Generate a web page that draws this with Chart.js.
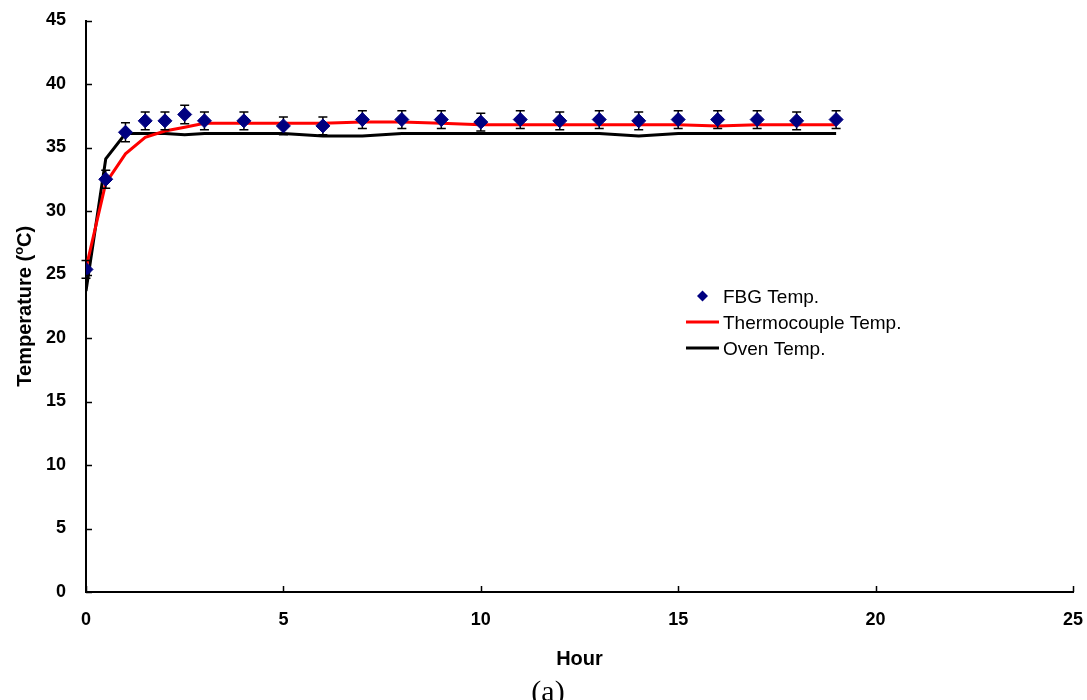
<!DOCTYPE html>
<html>
<head>
<meta charset="utf-8">
<script src="https://cdn.jsdelivr.net/npm/chart.js@4.4.1/dist/chart.umd.min.js"></script>
<style>
  html, body { margin: 0; padding: 0; background: #fff; }
  #chart { display: block; }
</style>
</head>
<body>
<canvas id="chart" width="1087" height="700"></canvas>
<script>
// --- data
const hours = [0, 0.5, 1, 1.5, 2, 2.5, 3, 4, 5, 6, 7, 8, 9, 10, 11, 12, 13, 14, 15, 16, 17, 18, 19];
const fbgTemp = [25.4, 32.5, 36.2, 37.1, 37.1, 37.6, 37.1, 37.1, 36.7, 36.7, 37.2, 37.2, 37.2, 37.0, 37.2, 37.1, 37.2, 37.1, 37.2, 37.2, 37.2, 37.1, 37.2];
const fbgError = [0.7, 0.7, 0.75, 0.7, 0.7, 0.73, 0.7, 0.7, 0.7, 0.7, 0.7, 0.7, 0.7, 0.7, 0.7, 0.7, 0.7, 0.7, 0.7, 0.7, 0.7, 0.7, 0.7];
const thermoTemp = [25.5, 32.2, 34.5, 35.8, 36.3, 36.6, 36.9, 36.9, 36.9, 36.9, 37.0, 37.0, 36.9, 36.8, 36.8, 36.8, 36.8, 36.8, 36.8, 36.7, 36.8, 36.8, 36.8];
const ovenTemp = [23.7, 34.1, 36.1, 36.1, 36.1, 36.0, 36.1, 36.1, 36.1, 35.9, 35.9, 36.1, 36.1, 36.1, 36.1, 36.1, 36.1, 35.9, 36.1, 36.1, 36.1, 36.1, 36.1];
const xTicks = [0, 5, 10, 15, 20, 25];
const yTicks = [0, 5, 10, 15, 20, 25, 30, 35, 40, 45];
const seriesNames = ['FBG Temp.', 'Thermocouple Temp.', 'Oven Temp.'];

const SANS = "'Liberation Sans', Arial, sans-serif";
const pts = ys => hours.map((h, i) => ({ x: h, y: ys[i] }));

// no automatic label padding, layout.padding decides the plot box
function noPad(s) { s.paddingTop = 0; s.paddingBottom = 0; s.paddingLeft = 0; s.paddingRight = 0; }

// --- helper plugin: inward ticks, error bars, legend, titles
const extras = {
  id: 'extras',
  beforeDatasetDraw(chart, args) {
    if (args.index !== 0) return;
    const { ctx, scales: { x, y } } = chart;
    ctx.save();
    ctx.strokeStyle = '#000';
    ctx.lineWidth = 1.5;
    hours.forEach((h, i) => {
      const px = x.getPixelForValue(h);
      const top = y.getPixelForValue(fbgTemp[i] + fbgError[i]);
      const bot = y.getPixelForValue(fbgTemp[i] - fbgError[i]);
      ctx.beginPath();
      ctx.moveTo(px, top); ctx.lineTo(px, bot);
      ctx.moveTo(px - 4.5, top); ctx.lineTo(px + 4.5, top);
      ctx.moveTo(px - 4.5, bot); ctx.lineTo(px + 4.5, bot);
      ctx.stroke();
    });
    ctx.restore();
  },
  afterDraw(chart) {
    const { ctx, chartArea: a, scales: { x, y } } = chart;
    ctx.save();
    // inward tick marks
    ctx.strokeStyle = '#000';
    ctx.lineWidth = 1.5;
    ctx.beginPath();
    yTicks.forEach(v => {
      const py = Math.round(y.getPixelForValue(v)) + 0.5;
      ctx.moveTo(a.left, py); ctx.lineTo(a.left + 6, py);
    });
    xTicks.forEach(v => {
      const px = Math.round(x.getPixelForValue(v)) + 0.5;
      ctx.moveTo(px, a.bottom); ctx.lineTo(px, a.bottom - 6);
    });
    ctx.stroke();

    // legend
    const ds = chart.data.datasets;
    const lx = 686, lw = 33, tx = 723;
    const rows = [296, 322, 348];
    ctx.textBaseline = 'alphabetic';
    ctx.textAlign = 'left';
    ctx.fillStyle = ds[0].backgroundColor;
    ctx.beginPath();
    ctx.moveTo(lx + lw / 2, rows[0] - 5.5);
    ctx.lineTo(lx + lw / 2 + 5.5, rows[0]);
    ctx.lineTo(lx + lw / 2, rows[0] + 5.5);
    ctx.lineTo(lx + lw / 2 - 5.5, rows[0]);
    ctx.closePath();
    ctx.fill();
    [1, 2].forEach(k => {
      ctx.strokeStyle = ds[k].borderColor;
      ctx.lineWidth = 3;
      ctx.beginPath();
      ctx.moveTo(lx, rows[k]); ctx.lineTo(lx + lw, rows[k]);
      ctx.stroke();
    });
    ctx.font = '19px ' + SANS;
    ctx.fillStyle = '#000';
    seriesNames.forEach((n, k) => ctx.fillText(n, tx, rows[k] + 6.5));

    // x title
    ctx.font = 'bold 20px ' + SANS;
    ctx.textAlign = 'center';
    ctx.fillText('Hour', (a.left + a.right) / 2, 665);

    // caption
    ctx.font = "30px 'Liberation Serif', 'Times New Roman', serif";
    ctx.fillText('(a)', 548, 701);

    // y title with superscript o
    ctx.translate(31, (a.top + a.bottom) / 2);
    ctx.rotate(-Math.PI / 2);
    const big = 'bold 20px ' + SANS, small = 'bold 13px ' + SANS;
    const p1 = 'Temperature (', p2 = 'o', p3 = 'C)';
    ctx.font = big; const w1 = ctx.measureText(p1).width, w3 = ctx.measureText(p3).width;
    ctx.font = small; const w2 = ctx.measureText(p2).width;
    let cx = -(w1 + w2 + w3) / 2;
    ctx.textAlign = 'left';
    ctx.font = big; ctx.fillText(p1, cx, 0); cx += w1;
    ctx.font = small; ctx.fillText(p2, cx, -8); cx += w2;
    ctx.font = big; ctx.fillText(p3, cx, 0);
    ctx.restore();
  }
};

new Chart(document.getElementById('chart'), {
  type: 'scatter',
  data: {
    datasets: [
      {
        label: seriesNames[0], data: pts(fbgTemp),
        pointStyle: 'rectRot', pointRadius: 7, borderWidth: 1,
        backgroundColor: '#000080', borderColor: '#000080', showLine: false
      },
      {
        label: seriesNames[1], data: pts(thermoTemp),
        showLine: true, borderColor: '#ff0000', borderWidth: 3, pointRadius: 0, tension: 0
      },
      {
        label: seriesNames[2], data: pts(ovenTemp),
        showLine: true, borderColor: '#000000', borderWidth: 3, pointRadius: 0, tension: 0
      }
    ]
  },
  options: {
    responsive: false,
    animation: false,
    devicePixelRatio: 1,
    layout: { padding: { top: 20.5, right: 14, left: 0, bottom: 0 } },
    plugins: { legend: { display: false }, tooltip: { enabled: false } },
    scales: {
      x: {
        type: 'linear', min: 0, max: 25,
        afterBuildTicks: s => { s.ticks = xTicks.map(v => ({ value: v })); },
        afterFit: s => { s.height = 108; noPad(s); },
        grid: { display: false, drawTicks: false },
        border: { display: true, color: '#000', width: 2 },
        ticks: { color: '#000', padding: 17, maxRotation: 0, font: { family: SANS, size: 18, weight: 'bold' } }
      },
      y: {
        min: 0, max: 45,
        afterBuildTicks: s => { s.ticks = yTicks.map(v => ({ value: v })); },
        afterFit: s => { s.width = 86; noPad(s); },
        grid: { display: false, drawTicks: false },
        border: { display: true, color: '#000', width: 2 },
        ticks: { color: '#000', padding: 20, font: { family: SANS, size: 18, weight: 'bold' } }
      }
    }
  },
  plugins: [extras]
});
</script>
</body>
</html>
